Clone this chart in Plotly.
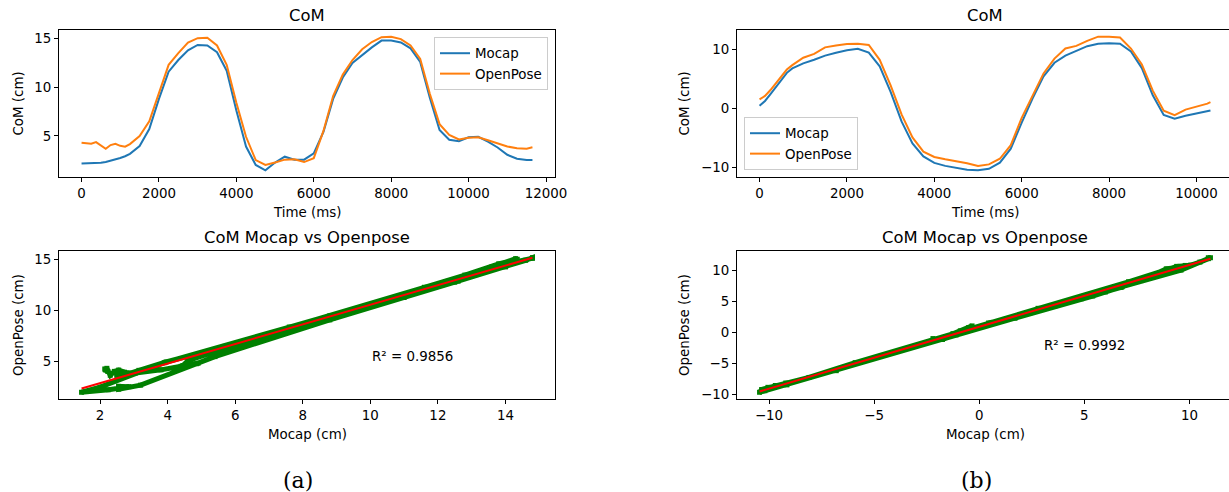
import numpy as np
import plotly.graph_objects as go

# ---------------- data ----------------
time_a = [0, 125, 250, 375, 500, 625, 750, 875, 1000, 1125, 1250, 1500, 1750, 2000,
          2250, 2500, 2750, 3000, 3250, 3500, 3750, 4000, 4250, 4500, 4750, 5000,
          5250, 5500, 5750, 6000, 6250, 6500, 6750, 7000, 7250, 7500, 7750, 8000,
          8250, 8500, 8750, 9000, 9250, 9500, 9750, 10000, 10250, 10500, 10750,
          11000, 11250, 11500, 11650]
mocap_a = [2.14, 2.15, 2.17, 2.20, 2.23, 2.30, 2.42, 2.55, 2.72, 2.90, 3.15, 3.95, 5.7, 8.8,
           11.6, 12.8, 13.8, 14.35, 14.3, 13.6, 11.7, 7.6, 3.9, 2.0, 1.45, 2.25,
           2.85, 2.55, 2.55, 3.2, 5.4, 8.8, 11.0, 12.5, 13.3, 14.1, 14.8, 14.8,
           14.6, 14.0, 12.6, 8.9, 5.6, 4.6, 4.45, 4.85, 4.9, 4.4, 3.8,
           3.05, 2.65, 2.5, 2.5]
openpose_a = [4.29, 4.22, 4.18, 4.35, 4.05, 3.67, 4.05, 4.18, 3.97, 3.88, 4.15, 4.97, 6.5, 9.5,
              12.3, 13.5, 14.6, 15.05, 15.1, 14.3, 12.3, 8.4, 4.9, 2.5, 2.0, 2.25,
              2.55, 2.58, 2.3, 2.7, 5.5, 9.1, 11.3, 12.8, 13.9, 14.65, 15.15, 15.2,
              14.95, 14.3, 12.9, 9.3, 6.2, 5.1, 4.62, 4.8, 4.85, 4.55, 4.2,
              3.9, 3.72, 3.68, 3.82]

time_b = [0, 125, 250, 375, 500, 625, 750, 1000, 1250, 1500, 1750, 2000, 2250, 2500,
          2750, 3000, 3250, 3500, 3750, 4000, 4250, 4500, 4750, 5000, 5250, 5500,
          5750, 6000, 6250, 6500, 6750, 7000, 7250, 7500, 7750, 8000, 8250, 8500,
          8750, 9000, 9250, 9500, 9750, 10000, 10250, 10320]
mocap_b = [0.45, 1.25, 2.4, 3.6, 4.85, 6.0, 6.75, 7.6, 8.2, 8.9, 9.4, 9.8, 10.05, 9.4,
           7.1, 2.8, -2.2, -5.9, -8.1, -9.2, -9.7, -10.05, -10.35, -10.45, -10.2, -9.15,
           -6.8, -2.4, 1.7, 5.4, 7.7, 8.9, 9.75, 10.5, 10.9, 11.0, 10.9, 9.6,
           6.8, 2.2, -1.1, -1.75, -1.25, -0.9, -0.5, -0.34]
openpose_b = [1.53, 2.1, 3.1, 4.3, 5.45, 6.55, 7.3, 8.55, 9.2, 10.3, 10.6, 10.85, 10.9, 10.7,
              8.2, 3.9, -1.0, -4.9, -7.3, -8.2, -8.6, -8.9, -9.25, -9.7, -9.45, -8.5,
              -6.2, -1.6, 2.3, 5.9, 8.4, 10.1, 10.55, 11.4, 12.1, 12.1, 11.95, 10.1,
              7.4, 3.0, -0.4, -1.15, -0.2, 0.25, 0.8, 1.05]

series_names = ["Mocap", "OpenPose"]
r2_labels = ["R² = 0.9856", "R² = 0.9992"]
r2_pos = [(10, 4.6), (3, -3.7)]
captions = ["(a)", "(b)"]
title_top = "CoM"
title_bottom = "CoM Mocap vs Openpose"
xlabel_top = "Time (ms)"
ylabel_top = "CoM (cm)"
xlabel_bottom = "Mocap (cm)"
ylabel_bottom = "OpenPose (cm)"

# ---------------- layout helpers ----------------
W, H = 1229, 492
BLUE, ORANGE, GREEN, RED = "#1f77b4", "#ff7f0e", "#008000", "#ff0000"
FONT = "DejaVu Sans"
FS = 13.4
FT = 16.4


def pxx(x):
    return x / W


def pyy(y):
    return 1 - y / H


def padded(lo, hi, f=0.05):
    d = (hi - lo) * f
    return [lo - d, hi + d]


def clipped(rng, visible_px, full_px):
    lo, hi = rng
    return [lo, lo + (hi - lo) * visible_px / full_px]


fig = go.Figure()

cols = [
    dict(t=time_a, m=mocap_a, o=openpose_a, left=59, right=555, ylab_x=18,
         clip=False, legend="legend"),
    dict(t=time_b, m=mocap_b, o=openpose_b, left=737, right=1233, ylab_x=684,
         clip=True, legend="legend2"),
]
TOP = (30, 177)
BOT = (251, 399)
top_dom = [pyy(TOP[1]), pyy(TOP[0])]
bot_dom = [pyy(BOT[1]), pyy(BOT[0])]

axis_common = dict(showline=True, linecolor="black", linewidth=1, ticks="outside",
                   ticklen=4, tickwidth=1, tickcolor="black", showgrid=False,
                   zeroline=False, automargin=False,
                   tickfont=dict(family=FONT, size=FS, color="black"))


def text_ann(text, x, y, size=FS, angle=0, family=FONT, xref="paper", yref="paper",
             xanchor="center", yanchor="middle"):
    return dict(text=text, x=x, y=y, xref=xref, yref=yref, showarrow=False,
                xanchor=xanchor, yanchor=yanchor, textangle=angle,
                font=dict(family=family, size=size, color="black"))


layout_axes = {}
annotations = []
for i, c in enumerate(cols):
    top_idx = 1 + i
    bot_idx = 3 + i
    kt = "" if top_idx == 1 else str(top_idx)
    xa_t, ya_t = f"x{kt}", f"y{kt}"
    xa_b, ya_b = f"x{bot_idx}", f"y{bot_idx}"

    # time series
    fig.add_trace(go.Scatter(x=c["t"], y=c["m"], mode="lines", name=series_names[0],
                             line=dict(color=BLUE, width=2), xaxis=xa_t, yaxis=ya_t,
                             legend=c["legend"]))
    fig.add_trace(go.Scatter(x=c["t"], y=c["o"], mode="lines", name=series_names[1],
                             line=dict(color=ORANGE, width=2), xaxis=xa_t, yaxis=ya_t,
                             legend=c["legend"]))

    # scatter + linear fit
    m = np.array(c["m"])
    o = np.array(c["o"])
    slope, intercept = np.polyfit(m, o, 1)
    fx = np.array([m.min(), m.max()])
    fy = slope * fx + intercept
    fig.add_trace(go.Scatter(x=m, y=o, mode="lines+markers", showlegend=False,
                             line=dict(color=GREEN, width=5),
                             marker=dict(color=GREEN, size=5, symbol="square"),
                             xaxis=xa_b, yaxis=ya_b))
    fig.add_trace(go.Scatter(x=fx, y=fy, mode="lines", showlegend=False,
                             line=dict(color=RED, width=2), xaxis=xa_b, yaxis=ya_b))

    full_px = c["right"] - c["left"]
    vis_px = min(c["right"], W) - c["left"]
    xd = [c["left"] / W, min(c["right"], W) / W]

    xr_t = padded(min(c["t"]), max(c["t"]))
    yr_t = padded(min(min(c["m"]), min(c["o"])), max(max(c["m"]), max(c["o"])))
    xr_b = padded(m.min(), m.max())
    yr_b = padded(min(o.min(), fy.min()), max(o.max(), fy.max()))
    if c["clip"]:
        xr_t = clipped(xr_t, vis_px, full_px)
        xr_b = clipped(xr_b, vis_px, full_px)

    mirror_y = not c["clip"]
    layout_axes[f"xaxis{kt}"] = dict(axis_common, domain=xd, range=xr_t, anchor=ya_t,
                                     dtick=2000, tick0=0, tickformat="d", mirror=True)
    layout_axes[f"yaxis{kt}"] = dict(axis_common, domain=top_dom, range=yr_t, anchor=xa_t,
                                     dtick=5 if i == 0 else 10, tick0=0, mirror=mirror_y)
    layout_axes[f"xaxis{bot_idx}"] = dict(axis_common, domain=xd, range=xr_b, anchor=ya_b,
                                          dtick=2 if i == 0 else 5, tick0=0, mirror=True)
    layout_axes[f"yaxis{bot_idx}"] = dict(axis_common, domain=bot_dom, range=yr_b, anchor=xa_b,
                                          dtick=5, tick0=0, mirror=mirror_y)

    cx = (c["left"] + c["right"]) / 2 / W
    annotations += [
        text_ann(title_top, cx, pyy(15), size=FT),
        text_ann(title_bottom, cx, pyy(237), size=FT),
        text_ann(xlabel_top, cx, pyy(213)),
        text_ann(xlabel_bottom, cx, pyy(434)),
        text_ann(ylabel_top, pxx(c["ylab_x"]), pyy((TOP[0] + TOP[1]) / 2), angle=-90),
        text_ann(ylabel_bottom, pxx(c["ylab_x"]), pyy((BOT[0] + BOT[1]) / 2), angle=-90),
        text_ann(r2_labels[i], r2_pos[i][0], r2_pos[i][1], xref=xa_b, yref=ya_b,
                 xanchor="left", yanchor="bottom"),
        text_ann(captions[i], pxx([298, 977][i]), pyy(480), size=22, family="DejaVu Serif"),
    ]

legend_common = dict(bgcolor="rgba(255,255,255,0.8)", bordercolor="#cccccc", borderwidth=1,
                     font=dict(family=FONT, size=FS, color="black"), tracegroupgap=0)

fig.update_layout(
    width=W, height=H, margin=dict(l=0, r=0, t=0, b=0, autoexpand=False),
    paper_bgcolor="white", plot_bgcolor="white",
    showlegend=True, hovermode=False,
    legend=dict(legend_common, x=pxx(548), xanchor="right", y=pyy(37), yanchor="top"),
    legend2=dict(legend_common, x=pxx(744), xanchor="left", y=pyy(170), yanchor="bottom"),
    annotations=annotations,
    **layout_axes,
)

fig.write_html("out.html", config={"displayModeBar": False},
               post_script="document.body.style.margin='0';document.body.style.overflow='hidden';")
